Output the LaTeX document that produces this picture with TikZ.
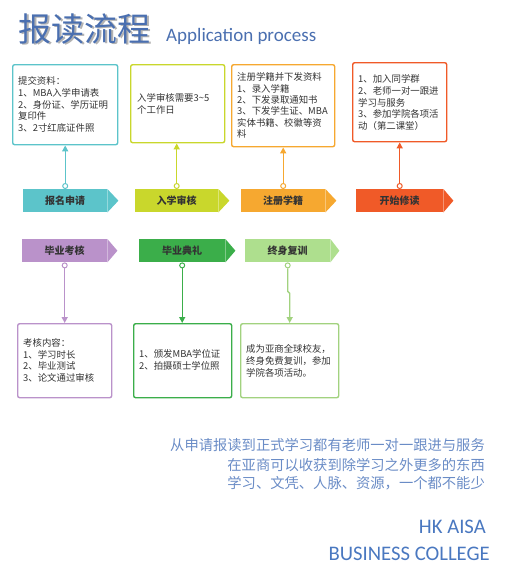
\documentclass[tikz,border=0pt]{standalone}
\usepackage{fontspec}
\setmainfont{Noto Sans CJK SC}
\newfontfamily\latinf{Carlito}
\usetikzlibrary{arrows.meta,calc}
\definecolor{cteal}{HTML}{5CC4CA}
\definecolor{cyel}{HTML}{C9D72C}
\definecolor{corg}{HTML}{F6A830}
\definecolor{cred}{HTML}{F05A28}
\definecolor{cpur}{HTML}{BA92CA}
\definecolor{cgrn}{HTML}{3BAE4A}
\definecolor{clgrn}{HTML}{AEDF8E}
\definecolor{clgrnb}{HTML}{A2D27F}
\definecolor{ctitle}{HTML}{4A6FB0}
\definecolor{cfoot}{HTML}{6A8CC6}
\definecolor{ccol}{HTML}{4A78C0}
\definecolor{ctxt}{HTML}{333333}
\begin{document}
\begin{tikzpicture}[x=1pt,y=-1pt,
  box/.style={draw, line width=1.4pt, rounded corners=2pt, fill=white, anchor=north west, inner sep=0},
  banner/.style={anchor=north west, inner sep=0, minimum height=23pt, font=\fontsize{10}{12}\selectfont\bfseries, text=ctxt},
  txt/.style={anchor=base west, align=left, inner sep=0, font=\fontsize{9.4}{11.7}\selectfont, text=ctxt},
  dot/.style={circle, draw, line width=1pt, fill=white, inner sep=0, minimum size=5pt},
  conn/.style={line width=1.4pt, -{Triangle[length=6pt,width=6pt]}},
  foot/.style={anchor=base east, inner sep=0, font=\fontsize{14.3}{16}\selectfont, text=cfoot}]
\useasboundingbox (0,0) rectangle (505,581);

% title
\node[text=black!30, font=\fontsize{33}{36}\selectfont] (titleshadow) at (86.5,30.5) {报读流程};
\node[text=ctitle, font=\fontsize{33}{36}\selectfont] (title) at (85,29) {报读流程};
\node[anchor=base west, inner sep=0, text=ctitle, font=\latinf\fontsize{19}{22}\selectfont] (subtitle) at (166,41) {Application process};

% top boxes
\node[box, draw=cteal, minimum width=105pt, minimum height=80pt] (t1) at (12,64) {};
\node[box, draw=cyel, minimum width=94pt, minimum height=78pt] (t2) at (130,64) {};
\node[box, draw=corg, minimum width=103pt, minimum height=82pt] (t3) at (231,64) {};
\node[box, draw=cred, minimum width=94pt, minimum height=79pt] (t4) at (352,62) {};

\node[txt] (x1) at (18,131.4) {提交资料：\\1、MBA入学申请表\\2、身份证、学历证明\\复印件\\3、2寸红底证件照};
\node[txt] (x2) at (137,113.3) {入学审核需要3\textasciitilde5\\个工作日};
\node[txt, font=\fontsize{9.4}{11.4}\selectfont] (x3) at (237,137.6) {注册学籍并下发资料\\1、录入学籍\\2、下发录取通知书\\3、下发学生证、MBA\\实体书籍、校徽等资\\料};
\node[txt] (x4) at (358,129.4) {1、加入同学群\\2、老师一对一跟进\\学习与服务\\3、参加学院各项活\\动（第二课堂）};

% row 1 banners
\node[banner, fill=cteal, minimum width=84pt] (b1) at (23,189) {报名申请};
\node[banner, fill=cyel, minimum width=83pt] (b2) at (135,189) {入学审核};
\node[banner, fill=corg, minimum width=84pt] (b3) at (241,189) {注册学籍};
\node[banner, fill=cred, minimum width=87pt] (b4) at (356,189) {开始修读};
\fill[cteal] (b1.north east) -- ($(b1.east)+(11,0)$) -- (b1.south east) -- cycle;
\fill[cyel] (b2.north east) -- ($(b2.east)+(11,0)$) -- (b2.south east) -- cycle;
\fill[corg] (b3.north east) -- ($(b3.east)+(11,0)$) -- (b3.south east) -- cycle;
\fill[cred] (b4.north east) -- ($(b4.east)+(10,0)$) -- (b4.south east) -- cycle;

\node[dot, draw=cteal] (d1) at ($(b1.north)+(0,-3)$) {};
\node[dot, draw=cyel] (d2) at ($(b2.north)+(0,-3)$) {};
\node[dot, draw=corg] (d3) at ($(b3.north)+(0,-3)$) {};
\node[dot, draw=cred] (d4) at ($(b4.north)+(0,-3)$) {};
\draw[conn, cteal] (d1) -- (d1 |- t1.south);
\draw[conn, cyel] (d2) -- (d2 |- t2.south);
\draw[conn, corg] (d3) -- (d3 |- t3.south);
\draw[conn, cred] (d4) -- (d4 |- t4.south);

% row 2 banners
\node[banner, fill=cpur, minimum width=85pt] (b5) at (22,239) {毕业考核};
\node[banner, fill=cgrn, minimum width=86pt] (b6) at (139,239) {毕业典礼};
\node[banner, fill=clgrn, minimum width=85pt] (b7) at (245,239) {终身复训};
\fill[cpur] (b5.north east) -- ($(b5.east)+(10,0)$) -- (b5.south east) -- cycle;
\fill[cgrn] (b6.north east) -- ($(b6.east)+(10,0)$) -- (b6.south east) -- cycle;
\fill[clgrn] (b7.north east) -- ($(b7.east)+(9,0)$) -- (b7.south east) -- cycle;

\node[dot, draw=cpur] (d5) at ($(b5.south)+(0,3)$) {};
\node[dot, draw=cgrn] (d6) at ($(b6.south)+(0,3)$) {};
\node[dot, draw=clgrnb] (d7) at ($(b7.south)+(0,3)$) {};

% bottom boxes
\node[box, draw=cpur, minimum width=94pt, minimum height=74pt] (t5) at (17,323) {};
\node[box, draw=cgrn, minimum width=98pt, minimum height=74pt] (t6) at (133,323) {};
\node[box, draw=clgrnb, minimum width=98pt, minimum height=74pt] (t7) at (240,323) {};

\draw[conn, cpur] (d5) -- (d5 |- t5.north);
\draw[conn, cgrn] (d6) -- (d6 |- t6.north);
\draw[conn, clgrnb] (d7) -- ++(0,26) -- ++(2,2) -- (t7.north);

\node[txt, font=\fontsize{9.4}{11.6}\selectfont] (x5) at (23,381.4) {考核内容：\\1、学习时长\\2、毕业测试\\3、论文通过审核};
\node[txt] (x6) at (139,369.3) {1、颁发MBA学位证\\2、拍摄硕士学位照};
\node[txt] (x7) at (246,376) {成为亚商全球校友，\\终身免费复训，参加\\学院各项活动。};

% footer
\node[foot] (f1) at (485,450.4) {从申请报读到正式学习都有老师一对一跟进与服务};
\node[foot] (f2) at (485,470.4) {在亚商可以收获到除学习之外更多的东西};
\node[foot] (f3) at (485,488.4) {学习、文凭、人脉、资源，一个都不能少};
\node[anchor=base east, inner sep=0, text=ccol, font=\latinf\fontsize{20.7}{24}\selectfont] (c1) at (486,533) {HK AISA};
\node[anchor=base east, inner sep=0, text=ccol, font=\latinf\fontsize{20.7}{24}\selectfont] (c2) at (490,560.5) {BUSINESS COLLEGE};
\end{tikzpicture}
\end{document}
